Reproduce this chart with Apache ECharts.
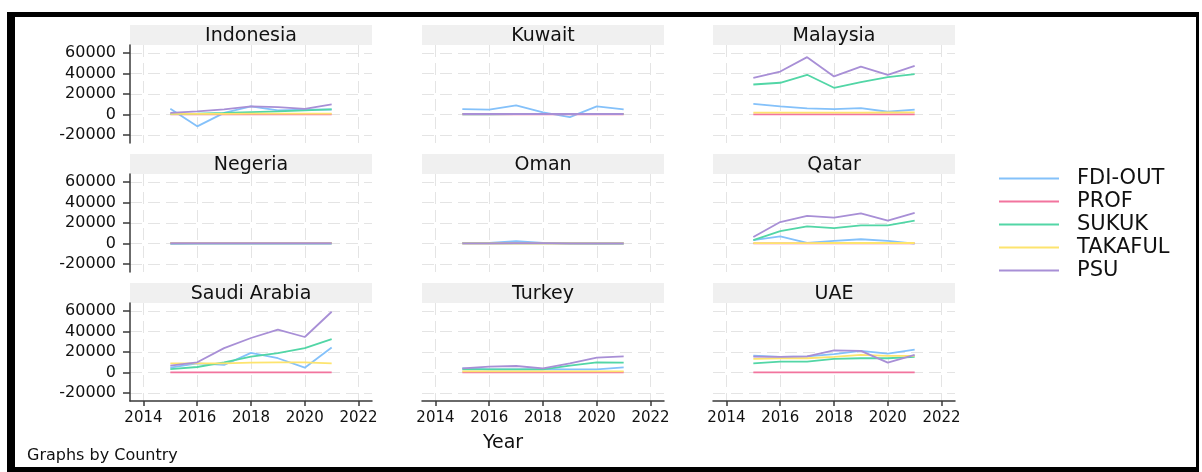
<!DOCTYPE html>
<html>
<head>
<meta charset="utf-8">
<title>Graphs by Country</title>
<script src="https://cdn.jsdelivr.net/npm/echarts@6/dist/echarts.min.js"></script>
<style>
html, body { margin: 0; padding: 0; background: #fff; }
#chart { width: 1202px; height: 472px; }
</style>
</head>
<body>
<div id="chart"></div>
<script>
const countries = ["Indonesia", "Kuwait", "Malaysia", "Negeria", "Oman", "Qatar", "Saudi Arabia", "Turkey", "UAE"];
const years = [2015, 2016, 2017, 2018, 2019, 2020, 2021];
const yearTicks = [2014, 2016, 2018, 2020, 2022];
const valueTicks = [-20000, 0, 20000, 40000, 60000];
const seriesNames = ["FDI-OUT", "PROF", "SUKUK", "TAKAFUL", "PSU"];
const seriesColors = ["#84c1fa", "#f2749e", "#52d6a6", "#fde46e", "#a88fd6"];

// one row per country, same order as countries
const fdiOut = [
  [5500, -11700, 1500, 7800, 3900, 4600, 4800],
  [5200, 4600, 8800, 2000, -2600, 7800, 4900],
  [10400, 7800, 5900, 5200, 6200, 2600, 4600],
  [-400, -300, -200, -300, -200, -300, -300],
  [200, 600, 2200, 600, -300, -500, -500],
  [3200, 7000, 600, 2500, 4100, 2500, -300],
  [4600, 8900, 7300, 19100, 13900, 4600, 24400],
  [4000, 3000, 3000, 3300, 3000, 3000, 5000],
  [16500, 15200, 15800, 18000, 21100, 18500, 22400]
];
const prof = [
  [0, 0, 0, 0, 0, 0, 0],
  [0, 0, 0, 0, 0, 0, 0],
  [0, 0, 0, 0, 0, 0, 0],
  [0, 0, 0, 0, 0, 0, 0],
  [0, 0, 0, 0, 0, 0, 0],
  [0, 0, 0, 0, 0, 0, 0],
  [0, 0, 0, 0, 0, 0, 0],
  [0, 0, 0, 0, 0, 0, 0],
  [0, 0, 0, 0, 0, 0, 0]
];
const sukuk = [
  [600, 800, 1400, 2300, 2900, 3900, 4900],
  [100, 100, 200, 200, 200, 300, 300],
  [29300, 31000, 38800, 26100, 31600, 36500, 39400],
  [0, 0, 0, 0, 100, 100, 100],
  [0, 0, 0, 0, 0, 0, 0],
  [3200, 12000, 16700, 14900, 17700, 17700, 22400],
  [3300, 5300, 9900, 15500, 18800, 23800, 32700],
  [3000, 3000, 3000, 3000, 6600, 9900, 9600],
  [8900, 10600, 10600, 13200, 13900, 13900, 15200]
];
const takaful = [
  [600, 600, 600, 700, 700, 700, 700],
  [300, 300, 300, 300, 300, 300, 300],
  [1800, 1800, 1700, 1700, 1800, 1900, 2000],
  [600, 600, 600, 600, 600, 600, 600],
  [100, 100, 100, 100, 100, 100, 100],
  [300, 300, 300, 400, 400, 400, 400],
  [8900, 8900, 8900, 9600, 9900, 9900, 8900],
  [1000, 1000, 1000, 1000, 1000, 1000, 1000],
  [13200, 13900, 13900, 15200, 17200, 16200, 16200]
];
const psu = [
  [1600, 2900, 4900, 7800, 7200, 5500, 9800],
  [400, 400, 400, 400, 400, 400, 400],
  [35900, 42000, 56100, 37200, 46900, 38800, 47600],
  [200, 200, 200, 200, 200, 200, 200],
  [0, 100, 300, 200, 100, 100, 100],
  [6300, 20900, 26900, 25300, 29400, 22400, 30000],
  [6600, 9900, 23800, 33700, 41900, 34700, 59400],
  [4000, 5600, 6300, 4000, 8900, 14500, 15800],
  [15500, 15200, 15800, 21500, 21100, 9600, 17200]
];

// panel layout
const colLeft = [130, 422, 713];
const rowTop = [45, 174, 303];
const plotW = 242;
const plotH = 98;
const stripH = 20;
const font = "DejaVu Sans";
const textColor = "#111111";
const axisColor = "#3a3a3a";

const myChart = echarts.init(document.getElementById("chart"), null, { renderer: "canvas" });

const grids = [];
const xAxes = [];
const yAxes = [];
const series = [];
const graphics = [];
const seriesData = [fdiOut, prof, sukuk, takaful, psu];

countries.forEach(function (country, i) {
  const row = Math.floor(i / 3);
  const col = i % 3;
  const left = colLeft[col];
  const top = rowTop[row];

  grids.push({ left: left, top: top, width: plotW, height: plotH, containLabel: false });

  xAxes.push({
    type: "value",
    gridIndex: i,
    min: 2013.5,
    max: 2022.5,
    axisLine: { show: row === 2, onZero: false, lineStyle: { color: axisColor, width: 1.5 } },
    axisTick: { show: row === 2, customValues: yearTicks, length: 5, lineStyle: { color: axisColor, width: 1.5 } },
    axisLabel: {
      show: row === 2, customValues: yearTicks, margin: 10,
      fontFamily: font, fontSize: 15, color: textColor,
      formatter: function (v) { return String(v); }
    },
    splitLine: { show: true, lineStyle: { color: "#e4e4e4", width: 1, type: [12, 6] } }
  });

  yAxes.push({
    type: "value",
    gridIndex: i,
    min: -28000,
    max: 68000,
    axisLine: { show: col === 0, onZero: false, lineStyle: { color: axisColor, width: 1.5 } },
    axisTick: { show: col === 0, customValues: valueTicks, length: 7, lineStyle: { color: axisColor, width: 1.5 } },
    axisLabel: {
      show: col === 0, customValues: valueTicks, margin: 14,
      fontFamily: font, fontSize: 16, color: textColor,
      formatter: function (v) { return String(v); }
    },
    splitLine: { show: true, lineStyle: { color: "#e4e4e4", width: 1, type: [12, 6] } }
  });

  // grey strip with the country name
  graphics.push({
    type: "rect",
    shape: { x: left, y: top - stripH, width: plotW, height: stripH },
    style: { fill: "#f0f0f0" },
    silent: true
  });
  graphics.push({
    type: "text",
    x: left + plotW / 2,
    y: top - stripH / 2 + 1,
    style: {
      text: country, fill: textColor, font: "19px " + font,
      textAlign: "center", textVerticalAlign: "middle"
    },
    silent: true
  });

  seriesNames.forEach(function (name, k) {
    series.push({
      name: name,
      type: "line",
      xAxisIndex: i,
      yAxisIndex: i,
      symbol: "none",
      showSymbol: false,
      silent: true,
      lineStyle: { color: seriesColors[k], width: 1.8 },
      itemStyle: { color: seriesColors[k] },
      data: years.map(function (y, j) { return [y, seriesData[k][i][j]]; })
    });
  });
});

// outer black frame
graphics.push({ type: "rect", shape: { x: 7, y: 12, width: 1192, height: 5 }, style: { fill: "#000" }, silent: true });
graphics.push({ type: "rect", shape: { x: 7, y: 12, width: 8, height: 460 }, style: { fill: "#000" }, silent: true });
graphics.push({ type: "rect", shape: { x: 7, y: 467, width: 1192, height: 5 }, style: { fill: "#000" }, silent: true });
graphics.push({ type: "rect", shape: { x: 1196, y: 12, width: 3, height: 460 }, style: { fill: "#000" }, silent: true });

// axis title and note
graphics.push({
  type: "text", x: 503, y: 443,
  style: { text: "Year", fill: textColor, font: "19px " + font, textAlign: "center", textVerticalAlign: "middle" },
  silent: true
});
graphics.push({
  type: "text", x: 27, y: 456,
  style: { text: "Graphs by Country", fill: textColor, font: "16px " + font, textAlign: "left", textVerticalAlign: "middle" },
  silent: true
});

const option = {
  animation: false,
  backgroundColor: "#ffffff",
  color: seriesColors,
  grid: grids,
  xAxis: xAxes,
  yAxis: yAxes,
  legend: {
    data: seriesNames,
    orient: "vertical",
    left: 999,
    top: 167,
    padding: 0,
    icon: "rect",
    itemWidth: 60,
    itemHeight: 2,
    itemGap: 0,
    selectedMode: false,
    textStyle: { fontFamily: font, fontSize: 21, color: textColor, lineHeight: 23, padding: [0, 0, 0, 13] }
  },
  graphic: graphics,
  series: series
};

myChart.setOption(option);
</script>
</body>
</html>
